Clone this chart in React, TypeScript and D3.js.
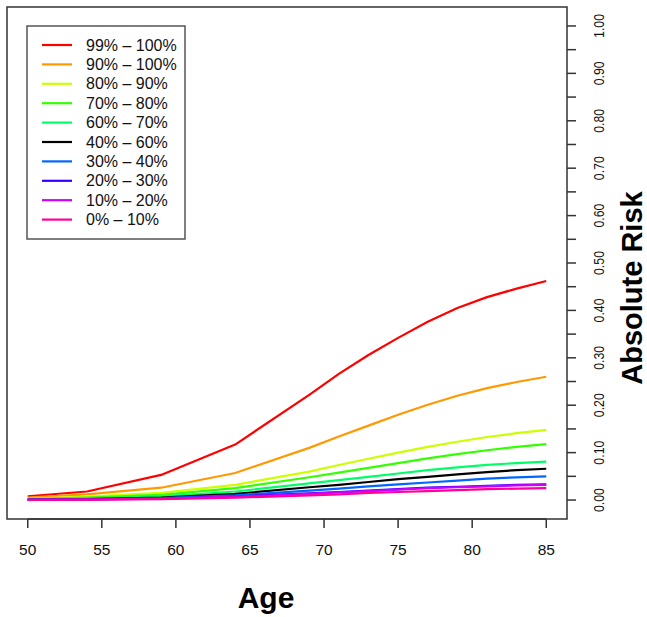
import React from "react";
import * as d3 from "d3";

const ages = [50, 54, 59, 64, 69, 71, 73, 75, 77, 79, 81, 83, 85];
const seriesLabels = [
  "99% – 100%", "90% – 100%", "80% – 90%", "70% – 80%", "60% – 70%",
  "40% – 60%", "30% – 40%", "20% – 30%", "10% – 20%", "0% – 10%",
];
const seriesColors = [
  "#FF0000", "#FF9900", "#CCFF00", "#33FF00", "#00FF66",
  "#000000", "#0066FF", "#3300FF", "#CC00FF", "#FF0099",
];
const p99 = [0.008, 0.018, 0.053, 0.117, 0.222, 0.266, 0.306, 0.342, 0.376, 0.405, 0.428, 0.446, 0.462];
const p90 = [0.005, 0.012, 0.026, 0.057, 0.110, 0.134, 0.157, 0.180, 0.201, 0.220, 0.236, 0.249, 0.260];
const p80 = [0.003, 0.007, 0.015, 0.032, 0.060, 0.074, 0.087, 0.100, 0.112, 0.123, 0.133, 0.141, 0.148];
const p70 = [0.002, 0.005, 0.011, 0.025, 0.048, 0.058, 0.068, 0.078, 0.088, 0.097, 0.105, 0.112, 0.118];
const p60 = [0.001, 0.003, 0.007, 0.018, 0.035, 0.042, 0.049, 0.056, 0.063, 0.069, 0.074, 0.078, 0.081];
const p40 = [0.001, 0.002, 0.005, 0.013, 0.027, 0.032, 0.038, 0.044, 0.049, 0.054, 0.059, 0.063, 0.066];
const p30 = [0.0008, 0.002, 0.004, 0.010, 0.020, 0.024, 0.029, 0.033, 0.037, 0.041, 0.045, 0.048, 0.050];
const p20 = [0.0006, 0.0012, 0.0032, 0.0075, 0.014, 0.017, 0.020, 0.023, 0.026, 0.028, 0.030, 0.032, 0.033];
const p10 = [0.0005, 0.001, 0.003, 0.007, 0.013, 0.016, 0.019, 0.022, 0.025, 0.027, 0.029, 0.031, 0.032];
const p0 = [0.0004, 0.001, 0.002, 0.005, 0.010, 0.012, 0.015, 0.017, 0.019, 0.021, 0.023, 0.024, 0.025];
const seriesValues = [p99, p90, p80, p70, p60, p40, p30, p20, p10, p0];

const xTicks = [50, 55, 60, 65, 70, 75, 80, 85];
const yTicks = d3.range(0, 1.0001, 0.05);
const yLabelTicks = d3.range(0, 1.0001, 0.1);

const W = 647, H = 617;
const box = { left: 7, right: 567, top: 7, bottom: 519 };

export default function App() {
  const x = d3.scaleLinear().domain([48.6, 86.4]).range([box.left, box.right]);
  const y = d3.scaleLinear().domain([-0.04, 1.04]).range([box.bottom, box.top]);
  const line = d3.line<number>()
    .x((_, i) => x(ages[i]))
    .y((d) => y(d))
    .curve(d3.curveLinear);
  const font = "'Liberation Sans', Arial, Helvetica, sans-serif";
  const axisColor = "#333";

  return (
    <svg width={W} height={H} style={{ position: "absolute", left: 0, top: 0, background: "#fff" }} fontFamily={font}>
      <rect x={0} y={0} width={W} height={H} fill="#fff" />
      {seriesValues.map((vals, i) => (
        <path key={i} d={line(vals) || ""} fill="none" stroke={seriesColors[i]} strokeWidth={2.2} strokeLinejoin="round" />
      ))}
      <rect x={box.left} y={box.top} width={box.right - box.left} height={box.bottom - box.top} fill="none" stroke={axisColor} strokeWidth={1.5} />
      <line x1={x(50)} x2={x(85)} y1={box.bottom} y2={box.bottom} stroke={axisColor} strokeWidth={1.5} />
      {xTicks.map((t) => (
        <g key={t}>
          <line x1={x(t)} x2={x(t)} y1={box.bottom} y2={box.bottom + 9} stroke={axisColor} strokeWidth={1.5} />
          <text x={x(t)} y={549} textAnchor="middle" dominantBaseline="central" fontSize={15.5} fill="#111">{t}</text>
        </g>
      ))}
      {yTicks.map((t, i) => (
        <line key={i} x1={box.right} x2={box.right + 9} y1={y(t)} y2={y(t)} stroke={axisColor} strokeWidth={1.5} />
      ))}
      {yLabelTicks.map((t, i) => (
        <text key={i} transform={`translate(598,${y(t)}) rotate(-90)`} textAnchor="middle" dominantBaseline="central" fontSize={15} textLength={24} lengthAdjust="spacingAndGlyphs" fill="#111">
          {t.toFixed(2)}
        </text>
      ))}
      <text transform="translate(642,288) rotate(-90)" textAnchor="middle" fontSize={29} fontWeight="bold" fill="#000">Absolute Risk</text>
      <text x={266} y={608} textAnchor="middle" fontSize={30} fontWeight="bold" fill="#000">Age</text>
      <rect x={27} y={26} width={158} height={213} fill="#fff" stroke="#555" strokeWidth={1.5} />
      {seriesLabels.map((lab, i) => {
        const yy = 45 + i * 19.4;
        return (
          <g key={lab}>
            <line x1={42} x2={72} y1={yy} y2={yy} stroke={seriesColors[i]} strokeWidth={2.2} />
            <text x={86} y={yy} dominantBaseline="central" fontSize={16} fill="#111">{lab}</text>
          </g>
        );
      })}
    </svg>
  );
}
